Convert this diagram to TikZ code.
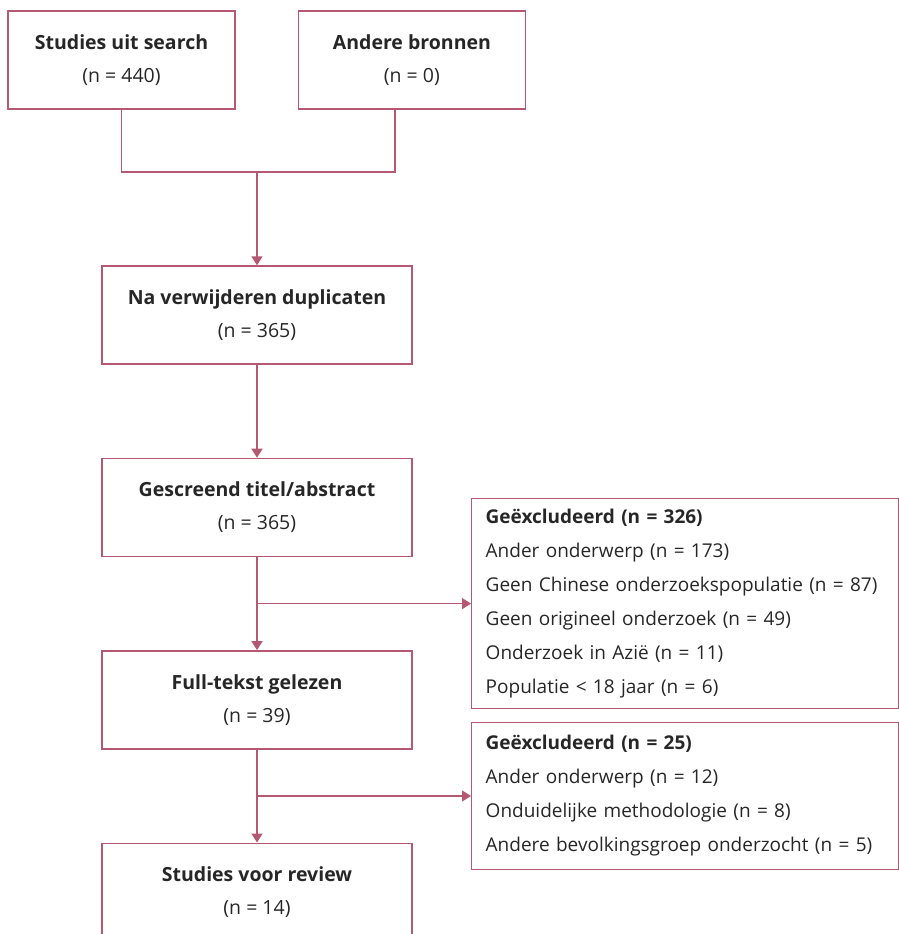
\documentclass[tikz,border=0pt]{standalone}
\usepackage{fontspec}
\setmainfont{Open Sans}
\usetikzlibrary{arrows.meta, positioning, calc}
\definecolor{flowline}{RGB}{181,88,114}
\definecolor{flowtext}{RGB}{38,38,38}
\tikzstyle{source} = [rectangle, minimum width=227pt, minimum height=98pt, align=center, draw=flowline, line width=1.4pt, text=flowtext, font=\fontsize{19.5}{33}\selectfont]
\tikzstyle{stage} = [source, minimum width=310pt]
\tikzstyle{excluded} = [rectangle, inner xsep=14pt, inner ysep=4pt, text width=399pt, align=left, draw=flowline, line width=1.4pt, text=flowtext, font=\fontsize{19}{34}\selectfont]
\tikzstyle{link} = [draw=flowline, line width=1.4pt]
\tikzstyle{arrow} = [link, -{Triangle[width=11pt,length=9pt]}]

\begin{document}
\begin{tikzpicture}[x=1pt, y=1pt, node distance=93pt and 62pt]
        \useasboundingbox (0,0) rectangle (899,-934);

        % Sources (top row)
        \node (search) [source] at (121.5,-60) {\textbf{Studies uit search}\\(n = 440)};
        \node (other) [source, right=62pt of search] {\textbf{Andere bronnen}\\(n = 0)};

        % Main column
        \node (dedup) [stage] at (257,-315) {\textbf{Na verwijderen duplicaten}\\(n = 365)};
        \node (screen) [stage, below=of dedup] {\textbf{Gescreend titel/abstract}\\(n = 365)};
        \node (fulltext) [stage, below=of screen] {\textbf{Full-tekst gelezen}\\(n = 39)};
        \node (review) [stage, below=of fulltext] {\textbf{Studies voor review}\\(n = 14)};

        % Exclusions (right column)
        \coordinate (merge) at (257,-172);
        \coordinate (screenbranch) at ($(screen.south)!0.5!(fulltext.north)$);
        \coordinate (fullbranch) at ($(fulltext.south)!0.5!(review.north)$);
        \node (excl1) [excluded, minimum height=210pt, right=214pt of screenbranch] {\textbf{Geëxcludeerd (n = 326)}\\Ander onderwerp (n = 173)\\Geen Chinese onderzoekspopulatie (n = 87)\\Geen origineel onderzoek (n = 49)\\Onderzoek in Azië (n = 11)\\Populatie < 18 jaar (n = 6)};
        \node (excl2) [excluded, minimum height=147pt, right=214pt of fullbranch] {\textbf{Geëxcludeerd (n = 25)}\\Ander onderwerp (n = 12)\\Onduidelijke methodologie (n = 8)\\Andere bevolkingsgroep onderzocht (n = 5)};

        % Connectors
        \draw [link] (search.south) |- (merge) -| ([xshift=-17pt]other.south);
        \draw [arrow] (merge) -- (dedup.north);
        \draw [arrow] (dedup) -- (screen);
        \draw [arrow] (screen) -- (fulltext);
        \draw [arrow] (fulltext) -- (review);
        \draw [arrow] (screenbranch) -- (excl1.west);
        \draw [arrow] (fullbranch) -- (excl2.west);

    \end{tikzpicture}
\end{document}
